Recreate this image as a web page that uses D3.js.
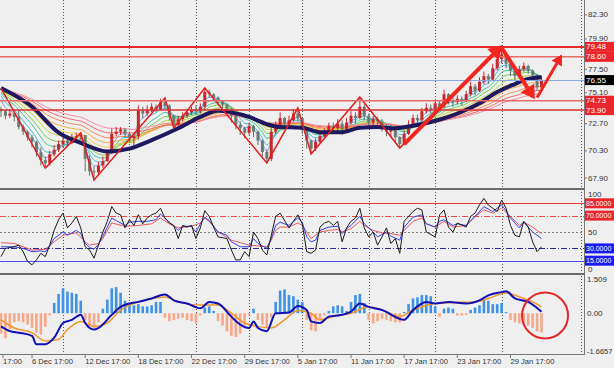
<!DOCTYPE html>
<html lang="en">
<head>
<meta charset="UTF-8" />
<title>Crude oil with MA ribbon, RSI and MACD</title>
<script src="https://d3js.org/d3.v7.min.js"></script>
<style>
  body { margin: 0; background: #efefef; }
  svg { display: block; font-family: "Liberation Sans", Arial, sans-serif; }
</style>
</head>
<body>
<div class="chart"></div>
<script>
// ---- price bars (open = previous close) ----
var firstOpen = 74.0;
var closes = [73.8,73.4,73.6,73.3,72.4,72.0,71.5,71.1,70.2,69.5,69.2,70.0,70.4,70.9,71.2,71.0,71.5,71.6,71.7,69.6,
  68.5,68.4,69.0,69.4,70.1,71.8,72.0,72.2,71.8,71.4,71.6,73.9,73.6,73.9,74.2,74.0,74.6,74.3,73.4,72.6,
  73.1,73.4,73.7,73.9,73.8,74.2,75.5,75.3,75.0,74.7,74.4,74.0,73.4,72.6,72.3,71.9,72.5,72.0,71.2,70.2,
  69.6,72.0,72.6,73.2,72.7,73.0,73.6,73.2,72.2,71.2,70.5,71.1,71.6,71.9,72.5,72.3,72.7,72.2,72.8,73.4,
  73.2,74.2,73.4,72.8,73.1,72.9,72.5,72.0,72.3,71.5,70.9,71.8,72.6,73.2,73.0,73.8,74.1,74.0,74.5,74.2,
  75.3,74.8,74.6,74.9,74.7,75.3,76.0,75.6,76.4,76.9,76.6,77.6,78.4,78.8,78.0,77.4,76.9,77.5,77.8,77.4,
  77.0,75.9,76.55];
var highs = [74.2,73.9,73.9,73.7,73.9,72.6,72.1,71.7,71.2,70.6,69.8,70.3,70.8,71.2,71.5,71.5,71.8,71.9,71.9,71.7,
  69.9,68.9,69.3,69.8,70.4,72.3,72.4,72.4,72.3,72.0,71.9,74.3,74.2,74.3,74.5,74.4,74.9,75.0,74.4,73.5,
  73.4,73.7,74.0,74.2,74.3,74.5,75.85,75.7,75.4,75.1,74.8,74.5,74.1,73.5,72.9,72.4,72.8,72.6,72.1,71.3,
  70.4,72.3,72.9,73.7,73.3,73.4,74.0,74.08,73.3,72.3,71.3,71.4,71.9,72.3,72.8,72.8,73.1,73.0,73.2,73.8,
  73.7,75.06,74.4,73.6,73.4,73.3,73.1,72.7,72.6,72.4,71.6,72.1,73.0,73.5,73.5,74.1,74.5,74.4,74.8,74.7,
  75.7,75.4,75.0,75.2,75.1,75.6,76.4,76.2,76.8,77.3,77.1,78.0,78.9,79.48,78.9,78.2,77.6,77.8,78.1,77.9,
  77.5,77.1,76.9];
var lows = [73.3,73.1,73.2,72.9,72.2,71.7,71.2,70.6,69.8,69.0,68.8,69.0,69.8,70.2,70.6,70.7,70.9,71.2,71.3,68.5,
  68.1,67.7,68.2,68.8,69.3,70.0,71.6,71.7,71.5,71.0,70.8,71.3,73.2,73.4,73.7,73.7,73.9,74.0,73.0,72.3,
  72.4,72.9,73.2,73.5,73.5,73.6,73.9,75.0,74.7,74.4,74.1,73.7,72.8,72.2,71.7,71.4,71.7,71.5,70.8,69.8,
  69.2,69.4,71.8,72.5,72.3,72.5,72.9,72.9,71.8,70.5,70.0,70.3,70.9,71.4,71.8,71.9,72.0,71.7,72.0,72.6,
  72.7,73.1,73.0,72.4,72.5,72.4,72.0,71.6,71.5,71.1,70.55,70.8,71.7,72.4,72.6,72.9,73.6,73.6,73.9,73.8,
  74.1,74.4,74.2,74.4,74.3,74.6,75.1,75.2,75.5,76.2,76.2,76.5,77.4,78.0,77.6,76.9,76.5,76.8,77.3,77.1,
  76.7,75.6,75.8];

// thick moving average [bar, price]
var maLine = [[0,75.85],[7,74.2],[13,71.9],[18,71.0],[24,70.25],[29,70.5],[34,71.25],[40,72.3],[45,73.3],
  [49,73.85],[52,73.7],[56,73.3],[60,72.65],[63,72.4],[68,72.35],[72,71.95],[77,71.95],[81,72.35],[85,72.4],
  [89,72.3],[92,72.45],[97,72.85],[101,73.3],[104,73.75],[108,74.5],[112,75.5],[116,76.2],[119,76.65],[122,76.8]];
var ribbonPeriods = [3, 5, 8, 11, 15, 19, 24, 30, 37, 45];
var ribbonColors = ["#6fa3ef","#3fbfd8","#3fc49a","#6fcf4f","#b5d83f","#efd23f","#f7ac3f","#f78a55","#f26a6a","#f48fa6"];

// zigzag turning points [bar, price]
var zigzag = [[0,75.85],[10,68.78],[18,71.88],[21,67.72],[37,74.97],[39,72.32],[46,75.85],[60,69.23],
  [67,74.08],[70,70.02],[81,75.06],[90,70.55],[113,79.48]];
// hand-drawn arrows [[bar, price], [bar, price]]
var arrows = [[[91,70.9],[113.2,79.65]], [[113,79.4],[120.5,74.85]], [[121,75.0],[126.6,78.8]]];
var arrowWidths = [4, 4, 3];

var levels = [79.48, 78.60, 74.73, 73.90];
var levelColors = ["#e32b2b", "#ea6a6a", "#ea6a6a", "#d93030"];
var levelWidths = [2, 1.5, 1.5, 1.5];
var bidPrice = 76.55;
var priceTicks = [82.30, 79.90, 77.50, 75.10, 72.70, 70.30, 67.90];

// RSI lines [bar, value]
var rsiFast = [[0,20],[1,30],[3,32],[4,34],[5,26],[6,14],[7,10],[8,16],[9,24],[10,20],[11,34],[12,52],[13,65],
  [14,73],[15,55],[16,61],[17,69],[18,55],[19,32],[20,28],[21,18],[22,34],[23,50],[24,63],[25,81],[26,73],
  [27,71],[28,55],[29,65],[30,58],[31,71],[32,60],[33,67],[34,71],[35,73],[36,79],[37,67],[38,61],[39,58],
  [40,42],[41,58],[42,56],[43,58],[44,42],[45,55],[46,76],[47,69],[48,56],[49,44],[51,42],[52,28],[53,16],
  [54,16],[55,26],[56,20],[57,50],[58,42],[59,28],[60,22],[61,46],[62,69],[63,73],[65,55],[66,63],[67,71],
  [68,60],[69,26],[70,24],[71,28],[72,56],[73,61],[74,63],[75,58],[76,63],[77,38],[78,55],[79,63],[80,67],
  [81,79],[82,55],[83,44],[84,50],[85,34],[86,44],[87,55],[88,36],[89,42],[90,24],[91,63],[93,75],[94,79],
  [95,77],[96,50],[98,44],[99,71],[100,77],[101,56],[102,50],[103,61],[105,56],[106,69],[107,73],[108,83],
  [109,91],[110,83],[112,75],[113,89],[114,79],[115,58],[116,46],[117,44],[118,63],[119,56],[120,38],[121,26],[122,32]];
var rsiMid = [[0,32],[3,32],[5,30],[7,26],[9,27],[10,26],[11,33],[12,42],[14,50],[15,46],[17,52],[18,48],[19,36],
  [20,31],[21,29],[22,35],[23,45],[25,67],[26,64],[28,58],[29,62],[31,63],[33,63],[35,65],[36,72],[38,62],[40,52],
  [41,57],[43,57],[44,50],[45,60],[46,68],[47,64],[49,50],[51,46],[52,38],[54,32],[56,32],[57,42],[58,36],[60,30],
  [61,42],[62,58],[63,62],[65,58],[67,67],[68,62],[69,44],[70,38],[71,40],[72,52],[74,56],[76,57],[77,48],[78,54],
  [79,58],[81,69],[82,60],[84,50],[85,44],[87,50],[88,45],[90,40],[91,56],[93,68],[95,71],[96,60],[98,56],[99,63],
  [100,65],[102,58],[103,60],[105,58],[107,69],[109,81],[111,75],[113,83],[114,76],[115,67],[117,55],[118,62],[120,50],[122,42]];
var rsiSlow = [[0,37],[3,36],[7,28],[10,29],[12,38],[14,46],[17,49],[19,38],[20,34],[22,36],[23,42],[25,61],[28,57],
  [31,58],[34,60],[36,67],[38,60],[40,55],[43,57],[45,61],[46,67],[47,63],[49,50],[52,40],[54,37],[56,34],[58,33],
  [60,32],[61,40],[62,52],[63,56],[65,56],[67,61],[68,58],[70,42],[72,50],[74,52],[76,53],[77,50],[79,54],[81,63],
  [82,58],[84,52],[86,49],[88,48],[90,46],[91,52],[93,63],[95,67],[96,60],[98,56],[100,63],[102,56],[105,58],
  [107,69],[109,77],[111,73],[113,79],[115,69],[117,58],[118,62],[120,56],[122,48]];
var rsiLevels = [85, 70, 50, 30, 15];
var rsiTicks = [100, 50, 0];

// MACD
var macdHist = [-0.9,-1.1,-0.7,-0.4,-0.35,-0.4,-0.5,-0.65,-0.85,-0.95,-0.6,-0.1,0.45,0.85,1.1,0.95,0.9,0.85,0.55,-0.3,
  -0.55,-0.65,-0.4,0.2,0.6,1.1,1.15,0.9,0.55,0.4,0.35,0.4,0.3,0.3,0.35,0.5,0.5,-0.2,-0.35,-0.3,
  -0.25,-0.2,-0.3,-0.35,-0.45,-0.1,0.25,0.3,0.1,-0.35,-0.55,-0.8,-1.0,-1.05,-0.9,-0.55,-0.1,0.2,-0.3,-0.5,
  -0.65,-0.2,0.5,1.0,1.05,0.8,0.75,0.6,0.5,-0.3,-0.75,-0.8,-0.3,-0.1,0.1,0.3,0.35,0.3,0.1,0.5,
  0.8,0.85,0.45,-0.3,-0.45,-0.35,-0.25,-0.3,-0.35,-0.4,-0.4,0.05,0.4,0.65,0.7,0.8,0.8,0.75,0.3,-0.15,
  0.2,0.25,0.2,-0.1,-0.1,-0.08,0.15,0.25,0.35,0.6,0.55,0.4,0.4,0.45,0.05,-0.3,-0.4,-0.45,-0.5,-0.55,
  -0.65,-0.8,-0.85];
var macdLine = [[0,-0.58],[2,-0.79],[4,-0.86],[7,-1.0],[8,-1.37],[10,-1.37],[12,-1.08],[14,-0.43],[16,-0.29],
  [18,-0.07],[19,-0.43],[21,-0.72],[22,-0.65],[25,-0.07],[27,0.28],[29,0.43],[31,0.5],[34,0.65],[37,0.83],
  [39,0.57],[42,0.43],[45,0.22],[47,0.5],[49,0.43],[52,-0.15],[54,-0.5],[56,-0.65],[57,-0.36],[58,-0.65],
  [60,-0.79],[62,0.0],[65,0.03],[67,0.32],[69,0.14],[70,-0.36],[72,-0.43],[74,-0.15],[77,-0.07],[79,0.07],
  [81,0.43],[83,0.28],[86,0.14],[91,-0.29],[93,0.14],[96,0.5],[98,0.43],[101,0.5],[105,0.43],[108,0.57],
  [110,0.79],[113,0.93],[114,0.97],[116,0.65],[119,0.5],[122,0.07]];
var signalLine = [[0,-0.29],[3,-0.65],[7,-0.86],[10,-1.22],[13,-1.15],[15,-0.72],[18,-0.36],[21,-0.58],[24,-0.43],
  [27,0.14],[30,0.43],[33,0.6],[37,0.72],[40,0.5],[45,0.36],[49,0.36],[52,0.0],[55,-0.43],[58,-0.58],[61,-0.65],
  [64,-0.29],[67,0.12],[70,0.0],[72,-0.29],[75,-0.15],[79,0.0],[83,0.28],[86,0.14],[90,-0.15],[93,0.14],
  [98,0.43],[102,0.47],[107,0.5],[110,0.65],[114,0.89],[117,0.72],[120,0.5],[122,0.28]];
var macdTicks = [1.509, 0, -1.6657];
var circleMark = [122.8, -0.1];

// time axis (first label: only its time part shows at the left edge)
var timeLabels = ["17:00","6 Dec 17:00","12 Dec 17:00","18 Dec 17:00","22 Dec 17:00","29 Dec 17:00",
  "5 Jan 17:00","11 Jan 17:00","17 Jan 17:00","23 Jan 17:00","29 Jan 17:00"];
var timeLabelBars = [0.45, 7, 19, 31, 43, 55, 67, 79, 91, 103, 115];
var gridBars = [14, 29, 44, 56, 68, 83, 98, 113, 131];

// ---- layout ----
var W = 614, H = 368, plotRight = 584;
var svg = d3.select(".chart").append("svg").attr("width", W).attr("height", H);
svg.append("rect").attr("width", W).attr("height", H).attr("fill", "#efefef");

var x = d3.scaleLinear().domain([0, 122]).range([1, 541.5]);
var yP = d3.scaleLinear().domain([67.02, 83.62]).range([188, 0]);
var yR = d3.scaleLinear().domain([0, 100]).range([273, 191]);
var yM = d3.scaleLinear().domain([-1.6657, 1.509]).range([351, 279]);
var crisp = v => Math.round(v) + 0.5;

var defs = svg.append("defs");
function clip(id, y0, h) {
  defs.append("clipPath").attr("id", id).append("rect").attr("x", 0).attr("y", y0).attr("width", plotRight).attr("height", h);
  return svg.append("g").attr("clip-path", "url(#" + id + ")");
}

// vertical grid
svg.append("g").selectAll("line").data(gridBars).join("line")
  .attr("x1", d => crisp(x(d))).attr("x2", d => crisp(x(d)))
  .attr("y1", 0).attr("y2", 354)
  .attr("stroke", "#555").attr("stroke-dasharray", "1,2");

// ---- main panel ----
var main = clip("clipMain", 0, 188);

var ribbonG = main.append("g");
ribbonPeriods.forEach(function (p, j) {
  var k = 2 / (p + 1), prev = maLine[0][1];
  var vals = closes.map(function (c) { prev = prev + k * (c - prev); return prev; });
  ribbonG.append("path").datum(vals)
    .attr("fill", "none").attr("stroke", ribbonColors[j]).attr("stroke-width", 1)
    .attr("d", d3.line().x((d, i) => x(i)).y(d => yP(d)).curve(d3.curveMonotoneX));
});

var opens = closes.map((c, i) => (i === 0 ? firstOpen : closes[i - 1]));
var candles = main.append("g").selectAll("g").data(closes).join("g");
candles.append("line")
  .attr("x1", (d, i) => x(i)).attr("x2", (d, i) => x(i))
  .attr("y1", (d, i) => yP(Math.max(highs[i], d, opens[i])))
  .attr("y2", (d, i) => yP(Math.min(lows[i], d, opens[i])))
  .attr("stroke", (d, i) => (d >= opens[i] ? "#c8262a" : "#5f6e66")).attr("stroke-width", 1);
candles.append("rect")
  .attr("x", (d, i) => x(i) - 1.5).attr("width", 3)
  .attr("y", (d, i) => yP(Math.max(d, opens[i])))
  .attr("height", (d, i) => Math.max(1, Math.abs(yP(d) - yP(opens[i]))))
  .attr("fill", (d, i) => (d >= opens[i] ? "#c8262a" : "#6c7b72"));

main.append("path").datum(maLine)
  .attr("fill", "none").attr("stroke", "#1d1860").attr("stroke-width", 4)
  .attr("d", d3.line().x(d => x(d[0])).y(d => yP(d[1])).curve(d3.curveMonotoneX));

main.append("path").datum(zigzag)
  .attr("fill", "none").attr("stroke", "#e01e1e").attr("stroke-width", 1.5)
  .attr("d", d3.line().x(d => x(d[0])).y(d => yP(d[1])));

main.selectAll(".lvl").data(levels).join("line")
  .attr("x1", 0).attr("x2", plotRight).attr("y1", d => yP(d)).attr("y2", d => yP(d))
  .attr("stroke", (d, i) => levelColors[i]).attr("stroke-width", (d, i) => levelWidths[i]);
main.append("line").attr("x1", 0).attr("x2", plotRight)
  .attr("y1", crisp(yP(bidPrice))).attr("y2", crisp(yP(bidPrice)))
  .attr("stroke", "#8aa4e6").attr("stroke-width", 1);

arrows.forEach(function (a, j) {
  var x1 = x(a[0][0]), y1 = yP(a[0][1]), x2 = x(a[1][0]), y2 = yP(a[1][1]);
  var len = Math.hypot(x2 - x1, y2 - y1), ux = (x2 - x1) / len, uy = (y2 - y1) / len;
  var w = arrowWidths[j], head = w * 3.4, half = w * 2;
  var bx = x2 - ux * head, by = y2 - uy * head;
  svg.append("line").attr("x1", x1).attr("y1", y1).attr("x2", bx).attr("y2", by)
    .attr("stroke", "#f2261e").attr("stroke-width", w);
  svg.append("path")
    .attr("d", "M" + x2 + "," + y2 + "L" + (bx - uy * half) + "," + (by + ux * half) + "L" + (bx + uy * half) + "," + (by - ux * half) + "Z")
    .attr("fill", "#f2261e");
});

// ---- RSI panel ----
var rsi = clip("clipRsi", 190, 83);
var rsiStyles = [
  { c: "#e23a3a", dash: null }, { c: "#ee4848", dash: "6,2,1,2" }, { c: "#808080", dash: "2,2" },
  { c: "#2a2a9c", dash: "6,2,1,2" }, { c: "#4b4be6", dash: null }];
rsi.selectAll(".rl").data(rsiLevels).join("line")
  .attr("x1", 0).attr("x2", plotRight).attr("y1", d => crisp(yR(d))).attr("y2", d => crisp(yR(d)))
  .attr("stroke", (d, i) => rsiStyles[i].c).attr("stroke-dasharray", (d, i) => rsiStyles[i].dash);
var rsiLine = d3.line().x(d => x(d[0])).y(d => yR(d[1]));
[[rsiSlow, "#e8595e"], [rsiMid, "#3340e0"], [rsiFast, "#1c1c1c"]].forEach(function (s) {
  rsi.append("path").datum(s[0]).attr("fill", "none").attr("stroke", s[1]).attr("stroke-width", 1).attr("d", rsiLine);
});

// ---- MACD panel ----
var macd = clip("clipMacd", 275, 79);
macd.selectAll("rect").data(macdHist).join("rect")
  .attr("x", (d, i) => x(i) - 1.3).attr("width", 2.6)
  .attr("y", d => yM(Math.max(0, d))).attr("height", d => Math.abs(yM(d) - yM(0)))
  .attr("fill", d => (d >= 0 ? "#3f93e6" : "#f5a88a"));
var mLine = d3.line().x(d => x(d[0])).y(d => yM(d[1])).curve(d3.curveMonotoneX);
macd.append("path").datum(signalLine).attr("fill", "none").attr("stroke", "#f0962a").attr("stroke-width", 1.5).attr("d", mLine);
macd.append("path").datum(macdLine).attr("fill", "none").attr("stroke", "#1010b4").attr("stroke-width", 2).attr("d", mLine);
svg.append("circle").attr("cx", x(circleMark[0])).attr("cy", yM(circleMark[1])).attr("r", 23)
  .attr("fill", "none").attr("stroke", "#e4262a").attr("stroke-width", 2);

// ---- frames ----
svg.append("rect").attr("x", 0).attr("y", 188).attr("width", plotRight + 1).attr("height", 2).attr("fill", "#6b6b6b");
svg.append("rect").attr("x", 0).attr("y", 273).attr("width", plotRight + 1).attr("height", 2).attr("fill", "#6b6b6b");
svg.append("line").attr("x1", 0).attr("x2", plotRight + 1).attr("y1", 354.5).attr("y2", 354.5).attr("stroke", "#777");
svg.append("line").attr("x1", plotRight + 0.5).attr("x2", plotRight + 0.5).attr("y1", 0).attr("y2", 355).attr("stroke", "#777");

// ---- right axis labels ----
var ax = svg.append("g").attr("font-size", 8).attr("fill", "#333");
function tickText(y, t) {
  ax.append("line").attr("x1", plotRight).attr("x2", plotRight + 3).attr("y1", y).attr("y2", y).attr("stroke", "#777");
  ax.append("text").attr("x", 588).attr("y", y).attr("dominant-baseline", "central").text(t);
}
priceTicks.forEach(function (v) {
  // labels hidden behind a level tag are pushed just clear of it
  var y = yP(v), near = levels.find(l => Math.abs(yP(l) - y) < 9);
  if (near !== undefined) y = yP(near) + (y < yP(near) ? -8 : 8);
  tickText(y, v.toFixed(2));
});
function tag(y, t, bg, fs) {
  ax.append("rect").attr("x", 585).attr("y", y - 5).attr("width", 29).attr("height", 10).attr("fill", bg);
  ax.append("text").attr("x", 586).attr("y", y).attr("dominant-baseline", "central").attr("font-size", fs)
    .attr("fill", "#fff").text(t);
}
levels.forEach(v => tag(yP(v), v.toFixed(2), "#e8262b", 8));
tag(yP(bidPrice), bidPrice.toFixed(2), "#000", 8);

rsiTicks.forEach(v => ax.append("text").attr("x", 588)
  .attr("y", yR(v) + (v === 100 ? 3.5 : v === 0 ? -4 : 0)).attr("dominant-baseline", "central").text(v));
rsiLevels.forEach(function (v) {
  if (v === 50) return;
  tag(yR(v), v.toFixed(4), v > 50 ? "#e8262b" : "#1b1bf0", 7);
});
macdTicks.forEach(v => ax.append("text").attr("x", 587).attr("y", yM(v)).attr("dominant-baseline", "central")
  .attr("font-size", v < -1 ? 7.5 : 8).text(v === 0 ? "0.00" : v));

// ---- time axis ----
var tg = svg.append("g").attr("font-size", 7.6).attr("fill", "#333");
timeLabelBars.forEach(function (b, i) {
  tg.append("line").attr("x1", x(b)).attr("x2", x(b)).attr("y1", 355).attr("y2", 358).attr("stroke", "#777");
  tg.append("text").attr("x", x(b)).attr("y", 361).attr("dominant-baseline", "central").text(timeLabels[i]);
});
</script>
</body>
</html>
